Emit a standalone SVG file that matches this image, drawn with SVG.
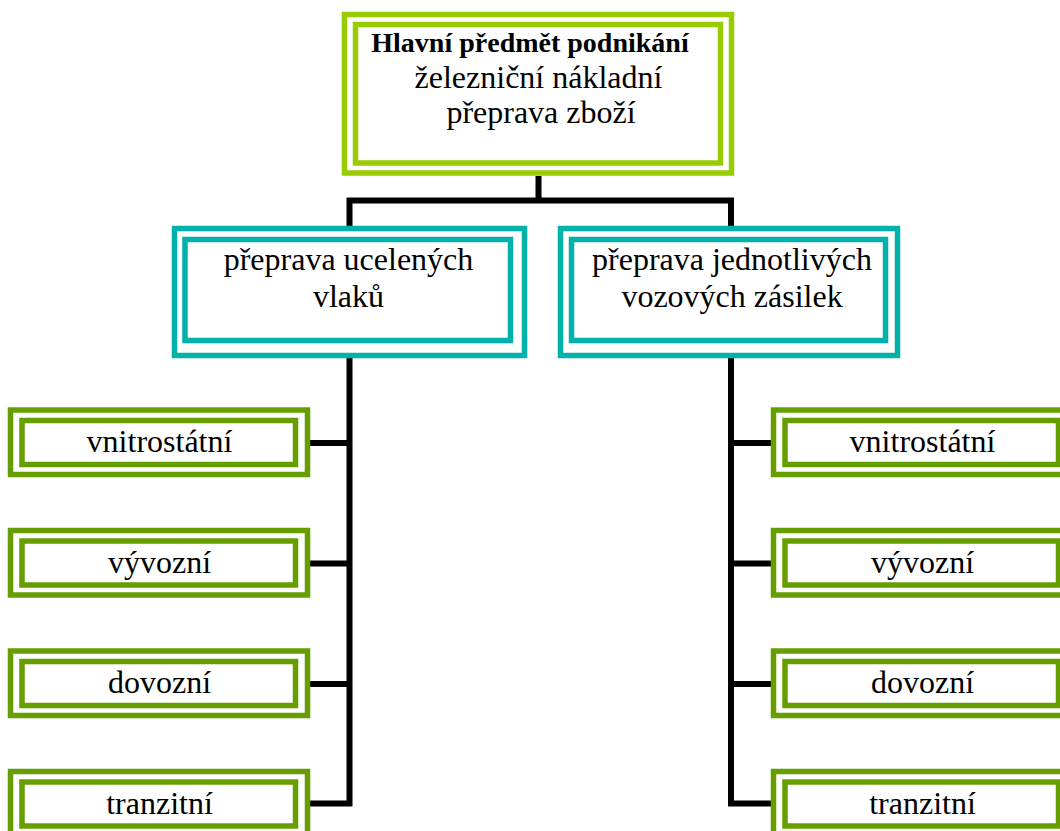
<svg xmlns="http://www.w3.org/2000/svg" width="1060" height="831" viewBox="0 0 1060 831">
<style>
  text { font-family: "Liberation Serif", "Times New Roman", serif; font-size: 32px; fill: #000; text-anchor: middle; }
  .b { font-weight: bold; font-size: 28px; }
  .top rect { fill: none; stroke: #99CC00; stroke-width: 5.5; }
  .mid rect { fill: none; stroke: #00B2AA; stroke-width: 5.5; }
  .leaf rect { fill: none; stroke: #669E00; stroke-width: 5.5; }
  .conn path { fill: none; stroke: #000; stroke-width: 6; }
</style>
<rect width="1060" height="831" fill="#fff"/>
<g class="conn" id="connectors">
  <path d="M538.5,176 V200.5 M349.5,200.5 H731 M349.5,197.5 V226 M731,197.5 V226"/>
  <path d="M349.5,358 V803.5 H310"/>
  <path d="M310,443 H352 M310,563.5 H352 M310,684 H352"/>
  <path d="M731,358 V803.5 H771"/>
  <path d="M728,443 H771 M728,563.5 H771 M728,684 H771"/>
</g>
<g id="node-top" class="top">
  <rect x="344.5" y="14.5" width="387" height="158.5"/>
  <rect x="355.5" y="24.5" width="365" height="138.5"/>
  <text class="b" x="530" y="52">Hlavní předmět podnikání</text>
  <text x="538.5" y="88">železniční nákladní</text>
  <text x="541" y="123">přeprava zboží</text>
</g>
<g id="node-mid-left" class="mid">
  <rect x="174.5" y="228.5" width="350" height="127"/>
  <rect x="185" y="239.5" width="325.5" height="101"/>
  <text x="348.5" y="270">přeprava ucelených</text>
  <text x="348.5" y="307">vlaků</text>
</g>
<g id="node-mid-right" class="mid">
  <rect x="560.5" y="228.5" width="337" height="127"/>
  <rect x="571.5" y="239.5" width="314" height="101"/>
  <text x="732" y="270">přeprava jednotlivých</text>
  <text x="732" y="307">vozových zásilek</text>
</g>
<g id="leaf-l1" class="leaf">
  <rect x="10.5" y="410" width="297" height="64.5"/>
  <rect x="22" y="420.5" width="273.5" height="44"/>
  <text x="159.5" y="452">vnitrostátní</text>
</g>
<g id="leaf-l2" class="leaf" transform="translate(0,120.5)">
  <rect x="10.5" y="410" width="297" height="64.5"/>
  <rect x="22" y="420.5" width="273.5" height="44"/>
  <text x="159.5" y="452">vývozní</text>
</g>
<g id="leaf-l3" class="leaf" transform="translate(0,241)">
  <rect x="10.5" y="410" width="297" height="64.5"/>
  <rect x="22" y="420.5" width="273.5" height="44"/>
  <text x="159.5" y="452">dovozní</text>
</g>
<g id="leaf-l4" class="leaf" transform="translate(0,361.5)">
  <rect x="10.5" y="410" width="297" height="64.5"/>
  <rect x="22" y="420.5" width="273.5" height="44"/>
  <text x="159.5" y="452">tranzitní</text>
</g>
<g id="leaf-r1" class="leaf" transform="translate(763,0)">
  <rect x="10.5" y="410" width="297" height="64.5"/>
  <rect x="22" y="420.5" width="273.5" height="44"/>
  <text x="159.5" y="452">vnitrostátní</text>
</g>
<g id="leaf-r2" class="leaf" transform="translate(763,120.5)">
  <rect x="10.5" y="410" width="297" height="64.5"/>
  <rect x="22" y="420.5" width="273.5" height="44"/>
  <text x="159.5" y="452">vývozní</text>
</g>
<g id="leaf-r3" class="leaf" transform="translate(763,241)">
  <rect x="10.5" y="410" width="297" height="64.5"/>
  <rect x="22" y="420.5" width="273.5" height="44"/>
  <text x="159.5" y="452">dovozní</text>
</g>
<g id="leaf-r4" class="leaf" transform="translate(763,361.5)">
  <rect x="10.5" y="410" width="297" height="64.5"/>
  <rect x="22" y="420.5" width="273.5" height="44"/>
  <text x="159.5" y="452">tranzitní</text>
</g>
</svg>
